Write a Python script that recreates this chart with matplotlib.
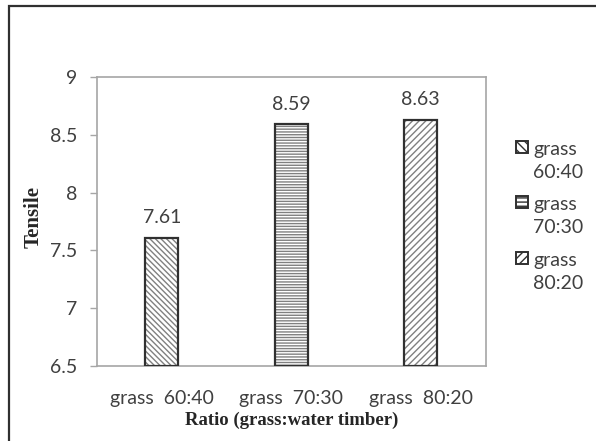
import numpy as np
import matplotlib.pyplot as plt
from matplotlib.patches import Rectangle

categories = ["grass  60:40", "grass  70:30", "grass  80:20"]
tensile = [7.61, 8.59, 8.63]
legend_labels = ["grass\n60:40", "grass\n70:30", "grass\n80:20"]
hatches = ["\\\\\\\\\\\\", "------", "/////"]
yticks = [6.5, 7, 7.5, 8, 8.5, 9]

sans = ["Lato", "DejaVu Sans"]
serif = ["Liberation Serif", "DejaVu Serif"]
txt_color = "#404040"
axis_gray = "#a6a6a6"
fs = 14

fig = plt.figure(figsize=(5.96, 4.41), dpi=100)
W, H = 596, 441
ax = fig.add_axes([97 / W, 75 / H, 388.5 / W, 289 / H])

x = np.arange(len(categories))
w = 0.255
for i in range(len(categories)):
    # hatch layer (grey), then dark outline on top
    ax.bar(x[i], tensile[i] - 6.5, w, bottom=6.5, color="white",
           edgecolor="#808080", hatch=hatches[i], linewidth=0, zorder=2)
    ax.bar(x[i], tensile[i] - 6.5, w, bottom=6.5, fill=False,
           edgecolor="#303030", linewidth=1.6, zorder=3)
    ax.annotate(f"{tensile[i]:.2f}", (x[i], tensile[i]), xytext=(0, 10.5),
                textcoords="offset points", ha="center", va="baseline",
                fontsize=fs, family=sans, color=txt_color)

ax.set_xlim(-0.5, 2.5)
ax.set_ylim(6.5, 9)
ax.set_yticks(yticks)
ax.set_yticklabels([f"{v:g}" for v in yticks], family=sans, fontsize=fs,
                   color=txt_color)
ax.set_xticks(x)
ax.set_xticklabels(categories, family=sans, fontsize=fs, color=txt_color)
ax.tick_params(axis="y", length=5, width=1, color=axis_gray, pad=9)
ax.tick_params(axis="x", length=0, pad=17)
for s in ax.spines.values():
    s.set_color(axis_gray)
    s.set_linewidth(1.2)

ax.set_xlabel("Ratio (grass:water timber)", family=serif, fontweight="bold",
              fontsize=13.5, color="#262626", labelpad=4)
ax.set_ylabel("Tensile", family=serif, fontweight="bold", fontsize=15,
              color="#262626")
ax.yaxis.set_label_coords(-53 / 388.5, (366 - 216.5) / 289)

# legend drawn by hand so the swatch sits next to the first line
leg_y = [141, 196, 252]
for i in range(len(legend_labels)):
    y0 = leg_y[i]
    fig.patches.append(Rectangle((516 / W, 1 - (y0 + 12) / H), 12 / W, 12 / H,
                                 transform=fig.transFigure, facecolor="white",
                                 edgecolor="#303030", hatch=hatches[i][:4],
                                 linewidth=1.4))
    for j, line in enumerate(legend_labels[i].split("\n")):
        fig.text(533 / W, 1 - (y0 + 14 + 23 * j) / H, line, ha="left",
                 va="baseline", fontsize=fs, family=sans, color=txt_color)

# outer chart frame
fig.patches.append(Rectangle((8.5 / W, -0.2), 1.2, 1.2 - 5.5 / H,
                             transform=fig.transFigure, fill=False,
                             edgecolor="#303030", linewidth=1.6))

fig.savefig("out.png", dpi=100)
